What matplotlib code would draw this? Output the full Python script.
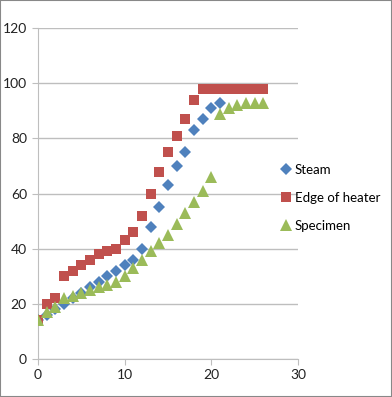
import matplotlib
matplotlib.use("Agg")
import matplotlib.pyplot as plt

steam_x = list(range(0, 22))
steam_y = [14, 16, 18, 20, 22, 24, 26, 28, 30, 32, 34, 36, 40, 48, 55, 63, 70, 75, 83, 87, 91, 93]

heater_x = list(range(0, 27))
heater_y = [14, 20, 22, 30, 32, 34, 36, 38, 39, 40, 43, 46, 52, 60, 68, 75, 81, 87, 94,
            98, 98, 98, 98, 98, 98, 98, 98]

spec_x = list(range(0, 27))
spec_y = [14, 17, 19, 22, 23, 24, 25, 26, 27, 28, 30, 33, 36, 39, 42, 45, 49, 53, 57, 61, 66,
          89, 91, 92, 93, 93, 93]

plt.rcParams['font.family'] = ['Lato', 'DejaVu Sans']

fig = plt.figure(figsize=(3.92, 3.97), dpi=100)
ax = fig.add_axes([0.097, 0.0957, 0.663, 0.8333])

ax.plot(steam_x, steam_y, 'D', color='#4F81BD', markersize=6, markeredgewidth=0, label='Steam', zorder=3)
ax.plot(heater_x, heater_y, 's', color='#C0504D', markersize=7.5, markeredgewidth=0, label='Edge of heater', zorder=3)
ax.plot(spec_x, spec_y, '^', color='#9BBB59', markersize=8, markeredgewidth=0, label='Specimen', zorder=3)

ax.set_xlim(0, 30)
ax.set_ylim(0, 120)
ax.set_xticks([0, 10, 20, 30])
ax.set_yticks([0, 20, 40, 60, 80, 100, 120])
ax.yaxis.grid(True, color='#BEBEBE', linewidth=1)
ax.set_axisbelow(True)
for s in ['top', 'right']:
    ax.spines[s].set_visible(False)
for s in ['left', 'bottom']:
    ax.spines[s].set_color('#BEBEBE')
ax.tick_params(colors='#BEBEBE', labelcolor='#222222', labelsize=10, length=4)
ax.tick_params(axis='y', length=4, pad=4)

ax.legend(loc='center left', bbox_to_anchor=(0.91, 0.487), frameon=False, fontsize=9.5,
          handletextpad=0.15, labelspacing=1.2, handlelength=1.0, borderaxespad=0)

fig.patches.append(plt.Rectangle((0, 0), 1, 1, transform=fig.transFigure, fill=False,
                                 edgecolor='#888888', linewidth=1.5))
fig.savefig('out.png', dpi=100)
